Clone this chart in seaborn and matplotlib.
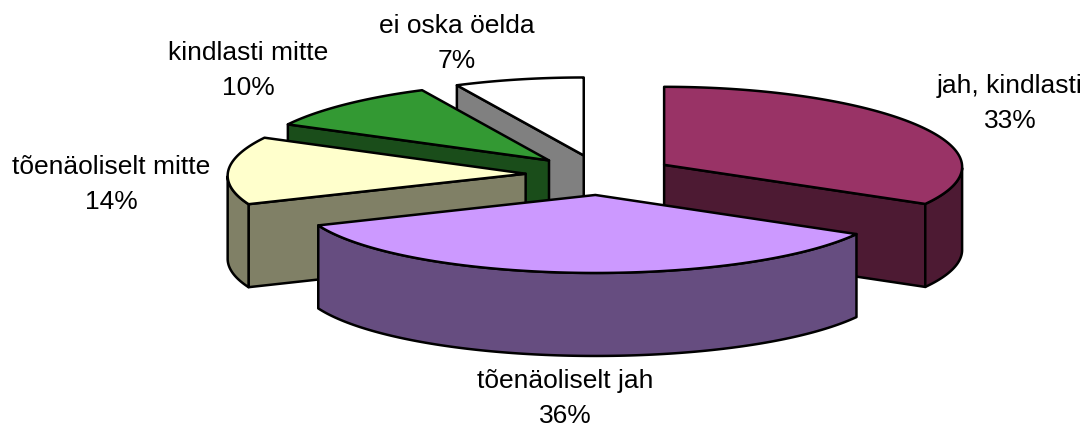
import numpy as np
import seaborn as sns
import matplotlib.pyplot as plt
from matplotlib.patches import Polygon

# Pie slices, clockwise from 12 o'clock
labels = ['jah, kindlasti', 'tõenäoliselt jah', 'tõenäoliselt mitte', 'kindlasti mitte', 'ei oska öelda']
shares = [33, 36, 14, 10, 7]
label_xy = [(1010, 93), (565, 388), (111, 174), (248, 60), (457, 33)]
top_colors = ['#993366', '#CC99FF', '#FFFFCC', '#339933', '#FFFFFF']

# Layout of the fake 3D pie, in pixels
center_x, center_y = 600, 176
rx, ry = 298, 78
sag = 2  # the sides of the ellipse sit a little lower, like the perspective in the original
depth = 83
explode = 0.25

sns.set_theme(style='white')
plt.rcParams['font.family'] = ['Liberation Sans', 'DejaVu Sans']

palette = sns.color_palette(top_colors)
wall_colors = [tuple(c / 2 for c in rgb) for rgb in palette]


def rim(apex, start, end):
    t = np.linspace(start, end, 120)
    return np.column_stack([apex[0] + rx * np.sin(t),
                            apex[1] - ry * np.cos(t) + sag * np.sin(t) ** 2])


def extrude(points):
    lower = points[::-1] + [0, depth]
    return np.vstack([points, lower])


fig, ax = plt.subplots(figsize=(10.91, 4.31), dpi=100)
fig.subplots_adjust(0, 0, 1, 1)
ax.set_xlim(0, 1091)
ax.set_ylim(431, 0)
ax.axis('off')

edges = np.radians(np.cumsum([0] + shares) * 3.6)

# Back slices first, the front one (tõenäoliselt jah) last
for i in [4, 3, 2, 0, 1]:
    start, end = edges[i], edges[i + 1]
    mid = (start + end) / 2
    apex = np.array([center_x + explode * rx * np.sin(mid), center_y - explode * 80 * np.cos(mid)])
    arc = rim(apex, start, end)
    style = dict(edgecolor='black', linewidth=1.8, joinstyle='round')

    # cut faces that look towards the viewer
    if np.sin(start) < -1e-6:
        ax.add_patch(Polygon(extrude(np.array([apex, arc[0]])), facecolor=wall_colors[i], **style))
    if np.sin(end) > 1e-6:
        ax.add_patch(Polygon(extrude(np.array([apex, arc[-1]])), facecolor=wall_colors[i], **style))

    # outer wall, only the part on the near side
    front = arc[np.cos(np.linspace(start, end, 120)) < 0]
    if len(front) > 1:
        ax.add_patch(Polygon(extrude(front), facecolor=wall_colors[i], **style))

    ax.add_patch(Polygon(np.vstack([apex, arc]), facecolor=palette[i], **style))

for label, share, (x, y) in zip(labels, shares, label_xy):
    ax.text(x, y, label, ha='center', va='baseline', fontsize=19, color='black')
    ax.text(x, y + 35, f'{share}%', ha='center', va='baseline', fontsize=19, color='black')

fig.savefig('out.png', dpi=100)
